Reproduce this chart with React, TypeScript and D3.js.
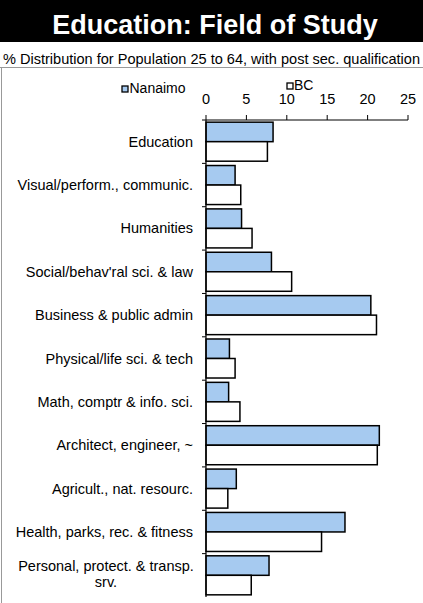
import React from "react";
import * as d3 from "d3";

const categories = [
  "Education",
  "Visual/perform., communic.",
  "Humanities",
  "Social/behav'ral sci. & law",
  "Business & public admin",
  "Physical/life sci. & tech",
  "Math, comptr & info. sci.",
  "Architect, engineer, ~",
  "Agricult., nat. resourc.",
  "Health, parks, rec. & fitness",
  "Personal, protect. & transp. srv.",
];
const nanaimo = [8.3, 3.6, 4.4, 8.1, 20.4, 2.9, 2.8, 21.45, 3.75, 17.2, 7.8];
const bc = [7.6, 4.3, 5.7, 10.6, 21.1, 3.6, 4.2, 21.2, 2.7, 14.3, 5.6];
const seriesNames = ["Nanaimo", "BC"];
const xTicks = [0, 5, 10, 15, 20, 25];
const title = "Education: Field of Study";
const subtitle = "% Distribution for Population 25 to 64, with post sec. qualification";

const W = 423;
const H = 603;
const FONT = "Arial, 'Liberation Sans', sans-serif";

export default function App() {
  const x = d3.scaleLinear().domain([0, 25]).range([206, 408]);
  const y = d3.scaleBand<string>().domain(categories).range([120, 597]).paddingInner(0.1).paddingOuter(0.05);
  const sub = d3.scaleBand<string>().domain(seriesNames).range([0, y.bandwidth()]);
  const fills = ["#A6CAF0", "#FFFFFF"];
  const series = [nanaimo, bc];

  return (
    <svg
      width={W}
      height={H}
      style={{ position: "absolute", left: 0, top: 0, background: "#fff" }}
      fontFamily={FONT}
    >
      <rect x={0} y={0} width={W} height={42} fill="#000" />
      <text x={215} y={34} textAnchor="middle" fill="#fff" fontWeight="bold" fontSize={27}>
        {title}
      </text>
      <text x={3} y={64} fontSize={14.5} fill="#000" textLength={417} lengthAdjust="spacingAndGlyphs">
        {subtitle}
      </text>
      <line x1={0} x2={W} y1={67.5} y2={67.5} stroke="#999" strokeWidth={1} />
      <line x1={1.5} x2={1.5} y1={67.5} y2={H} stroke="#999" strokeWidth={1} />

      {/* legend */}
      <rect x={122} y={86} width={6} height={6} fill={fills[0]} stroke="#000" strokeWidth={1.3} />
      <text x={129.5} y={93} fontSize={14} fill="#000">{seriesNames[0]}</text>
      <rect x={287} y={83} width={6} height={6} fill={fills[1]} stroke="#000" strokeWidth={1.3} />
      <text x={294} y={90} fontSize={14} fill="#000">{seriesNames[1]}</text>

      {/* x axis on top */}
      {xTicks.map((t) => (
        <g key={t}>
          <line x1={x(t)} x2={x(t)} y1={115} y2={120} stroke="#000" strokeWidth={1} />
          <text x={x(t)} y={104} textAnchor="middle" fontSize={14.5} fill="#000">
            {t}
          </text>
        </g>
      ))}
      <line x1={x(0)} x2={x(25)} y1={120} y2={120} stroke="#000" strokeWidth={1.2} />

      {/* bars */}
      {categories.map((c, i) => (
        <g key={c}>
          {series.map((s, j) => (
            <rect
              key={j}
              x={x(0)}
              y={(y(c) as number) + (sub(seriesNames[j]) as number)}
              width={x(s[i]) - x(0)}
              height={sub.bandwidth()}
              fill={fills[j]}
              stroke="#000"
              strokeWidth={1.5}
            />
          ))}
        </g>
      ))}

      {/* category axis */}
      <line x1={x(0)} x2={x(0)} y1={120} y2={597} stroke="#000" strokeWidth={1.2} />
      {categories.map((c, i) => (
        <line key={"t" + i} x1={x(0) - 4} x2={x(0)} y1={y(c)! - (y.step() - y.bandwidth()) / 2} y2={y(c)! - (y.step() - y.bandwidth()) / 2} stroke="#000" strokeWidth={1} />
      ))}
      {categories.map((c) => {
        const cy = (y(c) as number) + y.bandwidth() / 2;
        if (c.startsWith("Personal")) {
          return (
            <text key={c} fontSize={14.5} fill="#000" textAnchor="middle">
              <tspan x={106} y={cy - 4}>Personal, protect. &amp; transp.</tspan>
              <tspan x={106} y={cy + 12}>srv.</tspan>
            </text>
          );
        }
        return (
          <text key={c} x={193} y={cy + 5} textAnchor="end" fontSize={14.5} fill="#000">
            {c}
          </text>
        );
      })}
    </svg>
  );
}
